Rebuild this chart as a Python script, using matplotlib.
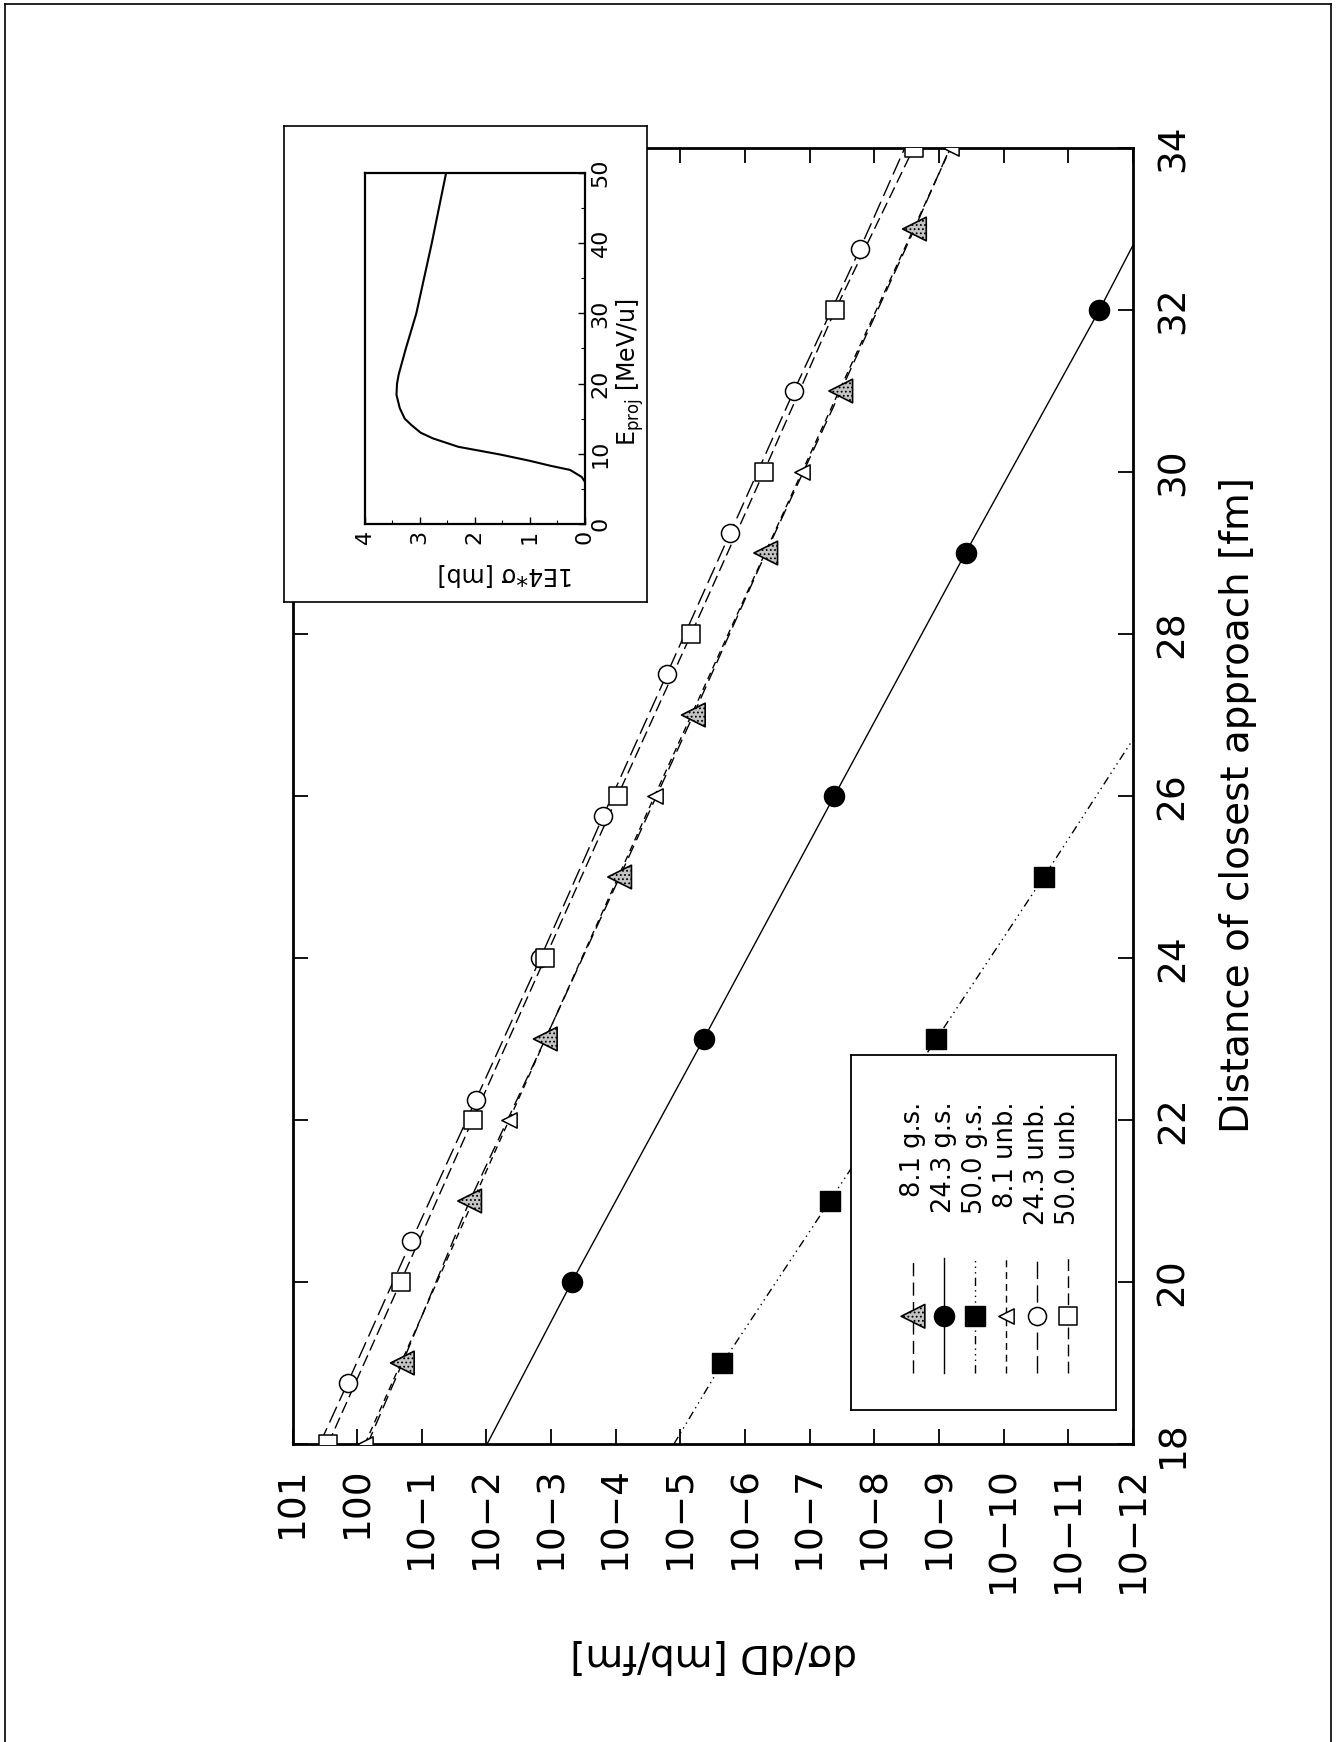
import matplotlib
matplotlib.use("Agg")
import matplotlib.pyplot as plt
from matplotlib.lines import Line2D
from matplotlib.ticker import FixedLocator, NullLocator, MultipleLocator

plt.rcParams['font.family'] = ['DejaVu Sans']
plt.rcParams['lines.scale_dashes'] = False
plt.rcParams['hatch.linewidth'] = 0.8

# ---------------- data ----------------
# main panel: distance of closest approach D [fm] vs dsigma/dD [mb/fm]
D_81gs = [19, 21, 23, 25, 27, 29, 31, 33]
v_81gs = [0.200, 0.0182, 1.23e-3, 8.71e-5, 6.31e-6, 4.79e-7, 3.31e-8, 2.40e-9]
D_81gs_ends = [18, 34]
v_81gs_ends = [0.692, 6.76e-10]

D_243gs = [20, 23, 26, 29, 32]
v_243gs = [4.79e-4, 4.37e-6, 4.17e-8, 3.89e-10, 3.31e-12]
D_243gs_ends = [18, 32.8]
v_243gs_ends = [9.77e-3, 1.0e-12]

D_50gs = [19, 21, 23, 25]
v_50gs = [2.24e-6, 4.90e-8, 1.10e-9, 2.40e-11]
D_50gs_ends = [18, 26.7]
v_50gs_ends = [1.26e-5, 1.0e-12]

D_81unb = [18, 22, 26, 30, 34]
v_81unb = [0.759, 4.47e-3, 2.51e-5, 1.32e-7, 6.61e-10]

D_243unb = [18.75, 20.5, 22.25, 24.0, 25.75, 27.5, 29.25, 31.0, 32.75]
v_243unb = [1.41, 0.146, 0.0146, 1.46e-3, 1.57e-4, 1.63e-5, 1.69e-6, 1.76e-7, 1.68e-8]
D_243unb_ends = [18, 34]
v_243unb_ends = [3.80, 3.39e-9]

D_50unb = [18, 20, 22, 24, 26, 28, 30, 32, 34]
v_50unb = [2.82, 0.213, 0.0164, 1.24e-3, 9.38e-5, 6.81e-6, 5.14e-7, 4.04e-8, 2.47e-9]

legend_labels = ['8.1 g.s.', '24.3 g.s.', '50.0 g.s.', '8.1 unb.', '24.3 unb.', '50.0 unb.']

sig_ticks = [1e1, 1e0, 1e-1, 1e-2, 1e-3, 1e-4, 1e-5, 1e-6, 1e-7, 1e-8, 1e-9,
             1e-10, 1e-11, 1e-12]
sig_tick_labels = ['101', '100', '10\u22121', '10\u22122', '10\u22123', '10\u22124',
                   '10\u22125', '10\u22126', '10\u22127', '10\u22128', '10\u22129',
                   '10\u221210', '10\u221211', '10\u221212']
D_ticks = [18, 20, 22, 24, 26, 28, 30, 32, 34]
D_tick_labels = ['18', '20', '22', '24', '26', '28', '30', '32', '34']

# inset: E_proj [MeV/u] vs 1E4*sigma [mb]
E_inset = [6.0, 6.7, 7.7, 8.3, 9.0, 9.9, 11.0, 12.2, 13.0, 14.1, 15.0, 16.5,
           18.4, 20.0, 21.3, 25.0, 30.0, 35.0, 40.0, 45.0, 50.0]
sig_inset = [0.0, 0.06, 0.27, 0.63, 1.0, 1.54, 2.30, 2.76, 2.98, 3.15, 3.27, 3.36,
             3.42, 3.41, 3.38, 3.25, 3.06, 2.92, 2.78, 2.65, 2.52]
inset_sig_ticks = [4, 3, 2, 1, 0]
inset_E_ticks = [0, 10, 20, 30, 40, 50]

# ---------------- figure ----------------
W, H = 1337, 1742
fig = plt.figure(figsize=(W / 100, H / 100), dpi=100)
fig.patch.set_facecolor('white')


def fx(px):
    return px / W


def fy(py):
    return 1 - py / H


def box(l, t, r, b):
    return [fx(l), fy(b), (r - l) / W, (b - t) / H]


# page frame
for xs, ys in [([5, 5], [1742, 4]), ([5, 1331], [4, 4]), ([1331, 1331], [4, 1742])]:
    fig.add_artist(Line2D([fx(x) for x in xs], [fy(y) for y in ys],
                          transform=fig.transFigure, color='black', lw=1.2))

ax = fig.add_axes(box(292.5, 148, 1133, 1444))
ax.set_xscale('log')
ax.set_xlim(1e1, 1e-12)
ax.set_ylim(18, 34)
for s in ax.spines.values():
    s.set_linewidth(2.0)

ax.xaxis.set_major_locator(FixedLocator(sig_ticks))
ax.xaxis.set_minor_locator(NullLocator())
ax.set_xticklabels(sig_tick_labels)
ax.yaxis.set_major_locator(FixedLocator(D_ticks))
ax.yaxis.set_minor_locator(NullLocator())
ax.set_yticklabels(D_tick_labels)
ax.tick_params(axis='both', which='major', direction='in', length=11, width=1.3,
               top=True, bottom=True, left=True, right=True,
               labelbottom=True, labeltop=False, labelleft=False, labelright=True,
               labelsize=27, pad=16)
for lab in ax.get_xticklabels():
    lab.set_rotation(90)
    lab.set_ha('center')
    lab.set_va('top')
for lab in ax.get_yticklabels():
    lab.set_rotation(90)
    lab.set_ha('left')
    lab.set_va('center')

lw = 1.0
sty = {
    '81gs': dict(color='black', lw=lw, dashes=(9.5, 4.5)),
    '243gs': dict(color='black', lw=lw, linestyle='-'),
    '50gs': dict(color='black', lw=lw, dashes=(6, 3, 1, 3, 1, 3, 1, 3)),
    '81unb': dict(color='black', lw=lw, dashes=(5, 3.5)),
    '243unb': dict(color='black', lw=lw, dashes=(12.5, 4.5)),
    '50unb': dict(color='black', lw=lw, dashes=(8.5, 3.8)),
}

# lines
ax.plot([v_81gs_ends[0]] + v_81gs + [v_81gs_ends[1]],
        [D_81gs_ends[0]] + D_81gs + [D_81gs_ends[1]], **sty['81gs'])
ax.plot([v_243gs_ends[0]] + v_243gs + [v_243gs_ends[1]],
        [D_243gs_ends[0]] + D_243gs + [D_243gs_ends[1]], **sty['243gs'])
ax.plot([v_50gs_ends[0]] + v_50gs + [v_50gs_ends[1]],
        [D_50gs_ends[0]] + D_50gs + [D_50gs_ends[1]], **sty['50gs'])
ax.plot(v_81unb, D_81unb, **sty['81unb'])
ax.plot([v_243unb_ends[0]] + v_243unb + [v_243unb_ends[1]],
        [D_243unb_ends[0]] + D_243unb + [D_243unb_ends[1]], **sty['243unb'])
ax.plot(v_50unb, D_50unb, **sty['50unb'])

# markers
mk = {
    '81gs': dict(marker='<', s=17 ** 2, facecolor='#c4c4c4', edgecolor='black',
                 linewidths=1.2, hatch='....'),
    '243gs': dict(marker='o', s=14.5 ** 2, facecolor='black', edgecolor='black'),
    '50gs': dict(marker='s', s=14 ** 2, facecolor='black', edgecolor='black'),
    '81unb': dict(marker='<', s=11 ** 2, facecolor='white', edgecolor='black',
                  linewidths=1.1),
    '243unb': dict(marker='o', s=13 ** 2, facecolor='white', edgecolor='black',
                   linewidths=1.1),
    '50unb': dict(marker='s', s=12.5 ** 2, facecolor='white', edgecolor='black',
                  linewidths=1.1),
}
ax.scatter(v_81gs, D_81gs, zorder=3, **mk['81gs'])
ax.scatter(v_243gs, D_243gs, zorder=3, **mk['243gs'])
ax.scatter(v_50gs, D_50gs, zorder=3, **mk['50gs'])
ax.scatter(v_81unb, D_81unb, zorder=3, **mk['81unb'])
ax.scatter(v_243unb, D_243unb, zorder=3, **mk['243unb'])
ax.scatter(v_50unb, D_50unb, zorder=3, **mk['50unb'])

# axis titles (rotated page)
fig.text(fx(1238), fy(805), 'Distance of closest approach [fm]', rotation=90,
         fontsize=28, ha='center', va='center')
fig.text(fx(714), fy(1655), 'd\u03c3/dD [mb/fm]', rotation=180,
         fontsize=28, ha='center', va='center')

# legend (rotated)
lg = fig.add_axes(box(851, 1055, 1116, 1410))
lg.set_xlim(0, 1)
lg.set_ylim(0, 1)
lg.set_xticks([])
lg.set_yticks([])
for s in lg.spines.values():
    s.set_linewidth(1.3)
keys = ['81gs', '243gs', '50gs', '81unb', '243unb', '50unb']
for i, (k, lab) in enumerate(zip(keys, legend_labels)):
    x = 0.234 + 0.117 * i
    lg.plot([x, x], [0.104, 0.428], **sty[k])
    lg.scatter([x], [0.264], zorder=3, **mk[k])
    lg.text(x, 0.868, lab, rotation=90, ha='center', va='top', fontsize=18.5)

# inset
ibox = fig.add_axes(box(284, 126, 647, 602))
ibox.set_facecolor('white')
ibox.set_xticks([])
ibox.set_yticks([])
for s in ibox.spines.values():
    s.set_linewidth(1.2)

ins = fig.add_axes(box(364.5, 173, 585, 524))
ins.set_xlim(4, 0)
ins.set_ylim(0, 50)
for s in ins.spines.values():
    s.set_linewidth(1.6)
ins.plot(sig_inset, E_inset, color='black', lw=1.5)
ins.xaxis.set_major_locator(FixedLocator(inset_sig_ticks))
ins.xaxis.set_minor_locator(MultipleLocator(0.5))
ins.yaxis.set_major_locator(FixedLocator(inset_E_ticks))
ins.yaxis.set_minor_locator(MultipleLocator(5))
ins.yaxis.tick_right()
ins.tick_params(axis='both', which='both', direction='in', top=False, left=False,
                bottom=True, right=True, labelsize=16)
ins.tick_params(axis='both', which='major', length=5, width=1.0, pad=4)
ins.tick_params(axis='both', which='minor', length=3, width=0.8)
for lab in ins.get_xticklabels():
    lab.set_rotation(90)
    lab.set_ha('center')
    lab.set_va('top')
for lab in ins.get_yticklabels():
    lab.set_rotation(90)
    lab.set_ha('left')
    lab.set_va('center')

fig.text(fx(505), fy(575), '1E4*\u03c3 [mb]', rotation=180, fontsize=17,
         ha='center', va='center')
fig.text(fx(630), fy(372), r'E$_{\mathrm{proj}}$ [MeV/u]', rotation=90, fontsize=17,
         ha='center', va='center')

fig.savefig('out.png', dpi=100, facecolor='white')
